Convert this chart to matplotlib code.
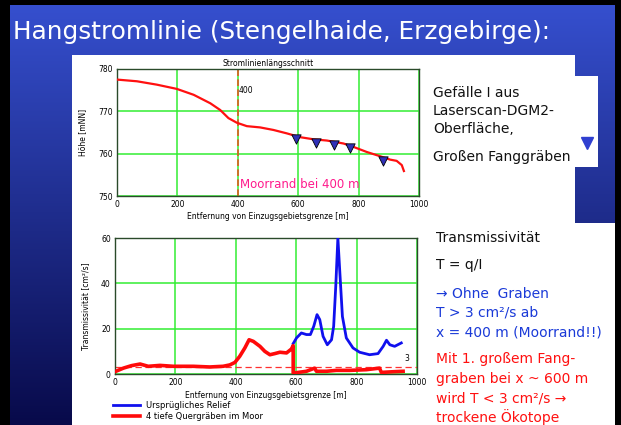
import numpy as np
import matplotlib
matplotlib.use("Agg")
import matplotlib.pyplot as plt
from matplotlib.patches import Rectangle
from matplotlib.lines import Line2D

# --- data ---
profile_x = [0, 66, 132, 198, 254, 309, 342, 369, 397, 430, 474, 518, 562, 606, 650,
             695, 750, 783, 827, 871, 904, 926, 943, 950]
profile_z = [777.5, 777.1, 776.3, 775.3, 773.9, 771.9, 770.3, 768.4, 767.3, 766.5, 766.2,
             765.6, 764.8, 763.9, 763.4, 763.1, 762.4, 761.6, 760.4, 759.4, 758.6, 758.3,
             757.3, 755.9]
ditch_x = [592, 658, 720, 773, 881]
ditch_z = [763.4, 762.6, 762.0, 761.3, 758.2]
moor_edge = 400

red_x = [3, 28, 55, 83, 110, 149, 193, 259, 314, 358, 380, 397, 413, 430, 444, 458, 480,
         496, 513, 529, 546, 568, 584, 590, 590, 634, 661, 667, 700, 733, 777, 832, 876,
         882, 921, 954]
red_T = [1.2, 2.6, 3.7, 4.4, 3.4, 3.8, 3.4, 3.4, 3.1, 3.4, 4.0, 5.1, 7.8, 11.5, 15.1, 14.4,
         12.2, 10.0, 8.5, 9.0, 9.6, 9.3, 11.0, 12.5, 0.4, 1.2, 2.6, 1.2, 1.2, 1.6, 1.6, 1.9,
         2.6, 0.7, 1.0, 1.2]
blue_x = [590, 601, 617, 634, 647, 658, 669, 678, 689, 703, 717, 724, 731, 738, 744, 753,
          766, 788, 810, 843, 871, 888, 899, 910, 926, 948]
blue_T = [13.4, 15.9, 18.1, 17.4, 17.4, 21.0, 26.2, 24.0, 16.6, 12.9, 15.1, 21.0, 38.7, 60.0,
          46.0, 25.4, 15.9, 11.5, 9.6, 8.5, 9.0, 12.2, 14.9, 12.9, 12.2, 13.7]
T_limit = 3

GRID = "#33ee33"
FRAME = "#2a4a2a"
FONT = "DejaVu Sans"
plt.rcParams["font.family"] = FONT

fig = plt.figure(figsize=(6.21, 4.25), dpi=100)
W, H = 621, 425

# slide background: vertical blue gradient
bg = fig.add_axes([0, 0, 1, 1], zorder=-10)
grad = np.linspace(0, 1, 256)[:, None]
top_c, bot_c = np.array([0x36, 0x50, 0xd0]) / 255, np.array([0x08, 0x0a, 0x4a]) / 255
img = top_c[None, None, :] * (1 - grad[..., None]) + bot_c[None, None, :] * grad[..., None]
bg.imshow(np.repeat(img, 2, axis=1), aspect="auto", extent=[0, 1, 0, 1])
bg.set_xlim(0, 1); bg.set_ylim(0, 1); bg.axis("off")


def frect(x0, y0, x1, y1, color):
    # rectangle given in pixel coords (top-left origin)
    bg.add_patch(Rectangle((x0 / W, 1 - y1 / H), (x1 - x0) / W, (y1 - y0) / H,
                           facecolor=color, edgecolor="none", transform=bg.transAxes))


frect(0, 0, W, 5, "black")
frect(0, 0, 10, H, "black")
frect(615, 0, W, H, "black")
frect(72, 55, 575, 224, "white")
frect(72, 223, 615, H, "white")
frect(575, 76, 598, 167, "white")

fig.text(13 / W, 1 - 32 / H, "Hangstromlinie (Stengelhaide, Erzgebirge):", color="white",
         fontsize=17.8, va="center", ha="left")


def style(ax):
    ax.grid(True, color=GRID, lw=1.1)
    ax.set_axisbelow(True)
    for s in ax.spines.values():
        s.set_color(FRAME); s.set_linewidth(1.0)
    ax.tick_params(length=0, labelsize=5.5, pad=3)


# top panel: longitudinal profile
ax1 = fig.add_axes([117 / W, 1 - 196 / H, 302 / W, 127 / H])
ax1.plot(profile_x, profile_z, color="#ff1010", lw=1.6, zorder=3)
ax1.axvline(moor_edge, color="#e05a20", lw=1.2, ls=(0, (4, 2)), zorder=2)
ax1.scatter(ditch_x, ditch_z, marker="v", s=45, color="#3030b8", edgecolor="black", lw=0.6, zorder=4)
ax1.text(moor_edge + 3, 775, "400", fontsize=5.5, va="center", ha="left")
ax1.text(moor_edge + 8, 752.7, "Moorrand bei 400 m", color="#ff1a8c", fontsize=8.5, va="center")
ax1.set_xlim(0, 1000); ax1.set_ylim(750, 780)
ax1.set_xticks(range(0, 1001, 200)); ax1.set_yticks([750, 760, 770, 780])
ax1.set_title("Stromlinienlängsschnitt", fontsize=5.5, pad=2)
ax1.set_ylabel("Höhe [mNN]", fontsize=5.5, labelpad=8)
ax1.set_xlabel("Entfernung von Einzugsgebietsgrenze [m]", fontsize=5.5, labelpad=2)
style(ax1)

# bottom panel: transmissivity
ax2 = fig.add_axes([115 / W, 1 - 374 / H, 302 / W, 136 / H])
l_blue, = ax2.plot(blue_x, blue_T, color="#1010ee", lw=2.0, zorder=3)
l_red, = ax2.plot(red_x, red_T, color="#ff0a0a", lw=2.6, zorder=4)
ax2.axhline(T_limit, color="#ff3030", lw=0.9, ls=(0, (5, 3)), zorder=2)
ax2.text(965, T_limit + 4, str(T_limit), fontsize=5.5, ha="center", va="center")
ax2.set_xlim(0, 1000); ax2.set_ylim(0, 60)
ax2.set_xticks(range(0, 1001, 200)); ax2.set_yticks([0, 20, 40, 60])
ax2.set_ylabel("Transmissivität [cm²/s]", fontsize=5.5, labelpad=8)
ax2.set_xlabel("Entfernung von Einzugsgebietsgrenze [m]", fontsize=5.5, labelpad=3)
style(ax2)
ax2.legend([l_blue, l_red], ["Ursprügliches Relief", "4 tiefe Quergräben im Moor"],
           loc="upper left", bbox_to_anchor=(113 / W, 1 - 401 / H), bbox_transform=fig.transFigure,
           frameon=False, fontsize=6, handlelength=3.2, handletextpad=0.8, labelspacing=0.25,
           borderaxespad=0, borderpad=0)

# triangle legend marker on the right
fig.add_artist(Line2D([587 / W], [1 - 143 / H], marker="v", markersize=9, color="#2f3fd0",
                      lw=0, transform=fig.transFigure))

# right-hand notes
fs = 10
notes_top = [("Gefälle I aus", 93), ("Laserscan-DGM2-", 111), ("Oberfläche,", 129),
             ("Großen Fanggräben", 157)]
for s, y in notes_top:
    fig.text(433 / W, 1 - y / H, s, fontsize=fs, va="center", color="#111111")

notes_bot = [("Transmissivität", 238, "#111111"), ("T = q/I", 265, "#111111"),
             ("→ Ohne  Graben", 294, "#1a3ad8"), ("T > 3 cm²/s ab", 313, "#1a3ad8"),
             ("x = 400 m (Moorrand!!)", 332, "#1a3ad8"),
             ("Mit 1. großem Fang-", 359, "#ff1010"), ("graben bei x ~ 600 m", 379, "#ff1010"),
             ("wird T < 3 cm²/s →", 398, "#ff1010"), ("trockene Ökotope", 417, "#ff1010")]
for s, y, c in notes_bot:
    fig.text(436 / W, 1 - y / H, s, fontsize=fs, va="center", color=c)

fig.savefig("out.png", dpi=100)
